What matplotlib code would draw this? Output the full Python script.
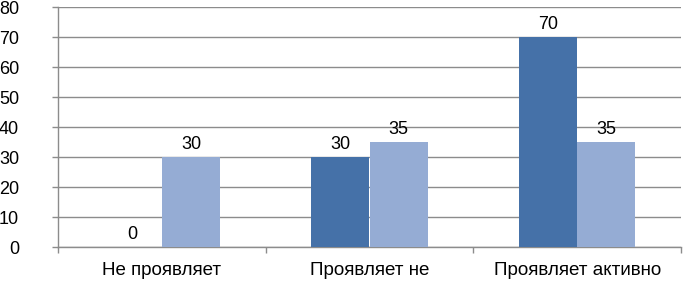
import matplotlib.pyplot as plt
import numpy as np

categories = ['Не проявляет', 'Проявляет не', 'Проявляет активно']
series_dark = [0, 30, 70]
series_light = [30, 35, 35]
yticks = [0, 10, 20, 30, 40, 50, 60, 70, 80]

plt.rcParams['font.family'] = ['Liberation Sans', 'DejaVu Sans']

fig = plt.figure(figsize=(6.84, 2.81), dpi=100)
ax = fig.add_axes([58 / 684, 34 / 281, 623 / 684, 240 / 281])

x = np.arange(len(categories))
w = 0.28
b1 = ax.bar(x - w / 2, series_dark, w, color='#4571A8', zorder=3)
b2 = ax.bar(x + w / 2, series_light, w, color='#95ACD4', zorder=3)
for bars in (b1, b2):
    for r in bars:
        h = r.get_height()
        ax.annotate(f'{h:g}', (r.get_x() + r.get_width() / 2, h),
                    xytext=(0, 3), textcoords='offset points',
                    ha='center', va='bottom', fontsize=13)

ax.set_xlim(-0.5, 2.5)
ax.set_ylim(0, 80)
ax.set_yticks(yticks)
ax.yaxis.grid(True, color='#8c8c8c', linewidth=1, zorder=0)
ax.set_xticks(x)
ax.set_xticklabels(categories, fontsize=13.5)
ax.set_xticks([-0.5, 0.5, 1.5, 2.5], minor=True)
ax.tick_params(axis='x', which='major', length=0, pad=11)
ax.tick_params(axis='x', which='minor', length=4, color='#8c8c8c', width=1)
ax.tick_params(axis='y', length=4, color='#8c8c8c', width=1, labelsize=13, pad=24)
for s in ['top', 'right']:
    ax.spines[s].set_visible(False)
for s in ['left', 'bottom']:
    ax.spines[s].set_color('#8c8c8c')
    ax.spines[s].set_linewidth(1)

fig.savefig('out.png', dpi=100)
